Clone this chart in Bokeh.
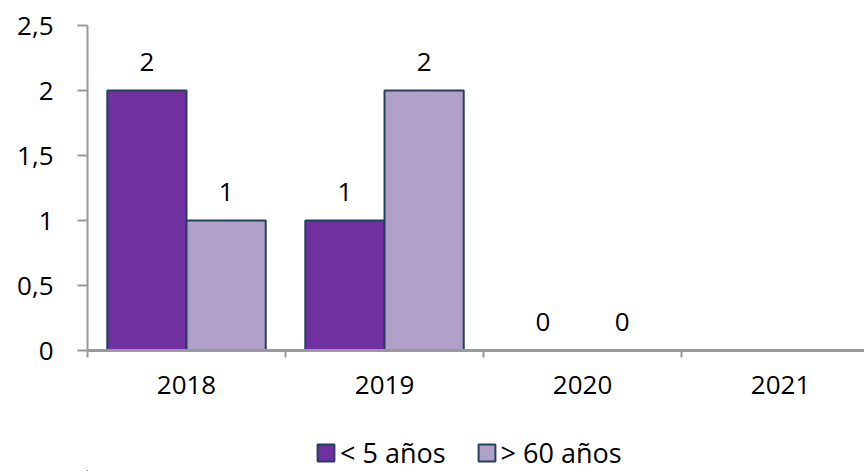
from bokeh.plotting import figure
from bokeh.models import (ColumnDataSource, Range1d, FixedTicker, LabelSet, Legend, LegendItem)
from bokeh.layouts import column
from bokeh.transform import dodge
from bokeh.core.properties import value
from bokeh.embed import file_html
from bokeh.resources import INLINE

years = ["2018", "2019", "2020", "2021"]
under5 = [2, 1, 0, None]
over60 = [1, 2, 0, None]
series_names = ["< 5 años", "> 60 años"]
y_ticks = [0, 0.5, 1, 1.5, 2, 2.5]
y_tick_labels = ["0", "0,5", "1", "1,5", "2", "2,5"]

dark = "#7030A0"
light = "#B1A0C7"
edge = "#243F60"
axis_col = "#9A9A9A"
FONT = "Open Sans"
FS = "26px"

pos = [i + 0.5 for i in range(len(years))]
nan = float("nan")
src = ColumnDataSource(dict(
    pos=pos,
    a=[v if v is not None else nan for v in under5],
    b=[v if v is not None else nan for v in over60],
))

MAIN_H = 403
p = figure(width=864, height=MAIN_H, output_backend="svg", toolbar_location=None,
           x_range=Range1d(0, 3.924), y_range=Range1d(0, 2.5),
           min_border_left=87, min_border_right=0, min_border_top=25,
           min_border_bottom=MAIN_H - 350)
p.outline_line_color = None
p.xgrid.visible = False
p.ygrid.visible = False
p.background_fill_color = "white"

bar_a = dict(fill_color=dark, line_color=edge, line_width=2)
bar_b = dict(fill_color=light, line_color=edge, line_width=2)
p.vbar(x=dodge("pos", -0.2, range=p.x_range), top="a", width=0.4, source=src, **bar_a)
p.vbar(x=dodge("pos", 0.2, range=p.x_range), top="b", width=0.4, source=src, **bar_b)

# data labels (only for available values)
la = ColumnDataSource(dict(
    pos=[pp for pp, v in zip(pos, under5) if v is not None],
    v=[v for v in under5 if v is not None],
    t=[str(v) for v in under5 if v is not None]))
lb = ColumnDataSource(dict(
    pos=[pp for pp, v in zip(pos, over60) if v is not None],
    v=[v for v in over60 if v is not None],
    t=[str(v) for v in over60 if v is not None]))
for s, off in ((la, -0.2), (lb, 0.2)):
    p.add_layout(LabelSet(x=dodge("pos", off, range=p.x_range), y="v", text="t", source=s,
                          text_align="center", text_baseline="alphabetic", y_offset=20,
                          text_font=value(FONT), text_font_size=value(FS), text_color="black"))

# y axis
ya = p.yaxis[0]
ya.ticker = FixedTicker(ticks=y_ticks)
ya.major_label_overrides = {t: l for t, l in zip(y_ticks, y_tick_labels)}
ya.axis_line_color = axis_col
ya.axis_line_width = 2
ya.major_tick_line_color = axis_col
ya.major_tick_line_width = 2
ya.major_tick_out = 10
ya.major_tick_in = 0
ya.minor_tick_line_color = None
ya.major_label_standoff = 24
ya.major_label_text_font = FONT
ya.major_label_text_font_size = FS
ya.major_label_text_color = "black"

# x axis
xa = p.xaxis[0]
xa.ticker = FixedTicker(ticks=pos, minor_ticks=[0, 1, 2, 3, 4])
xa.major_label_overrides = {pp: y for pp, y in zip(pos, years)}
xa.axis_line_color = axis_col
xa.axis_line_width = 3
xa.major_tick_line_color = None
xa.major_tick_out = 0
xa.major_tick_in = 0
xa.minor_tick_line_color = axis_col
xa.minor_tick_line_width = 2
xa.minor_tick_out = 7
xa.minor_tick_in = 0
xa.major_label_standoff = 18
xa.major_label_text_font = FONT
xa.major_label_text_font_size = FS
xa.major_label_text_color = "black"

# legend strip below the chart (its frame is aligned with the chart's frame);
# its bar renderers lie far outside the visible ranges, only the legend shows
LEG_H = 471 - MAIN_H
lg = figure(width=864, height=LEG_H, output_backend="svg", toolbar_location=None,
            x_axis_location=None, y_axis_location=None,
            x_range=Range1d(100, 101), y_range=Range1d(100, 101),
            min_border=0, min_border_left=87, min_border_right=0,
            min_border_top=0, min_border_bottom=0)
lg.outline_line_color = None
lg.xgrid.visible = False
lg.ygrid.visible = False
g1 = lg.vbar(x="pos", top="a", width=0.4, source=src, **bar_a)
g2 = lg.vbar(x="pos", top="b", width=0.4, source=src, **bar_b)
legend = Legend(items=[LegendItem(label=series_names[0], renderers=[g1]),
                       LegendItem(label=series_names[1], renderers=[g2])],
                orientation="horizontal", location=(228, 0),
                padding=0, margin=0, spacing=30, label_standoff=4,
                glyph_width=21, glyph_height=21,
                label_text_font=FONT, label_text_font_size="27px", label_text_color="black",
                background_fill_alpha=0, border_line_alpha=0)
lg.add_layout(legend, "center")

layout = column(p, lg, spacing=0)
open("out.html", "w").write(file_html(layout, INLINE))
